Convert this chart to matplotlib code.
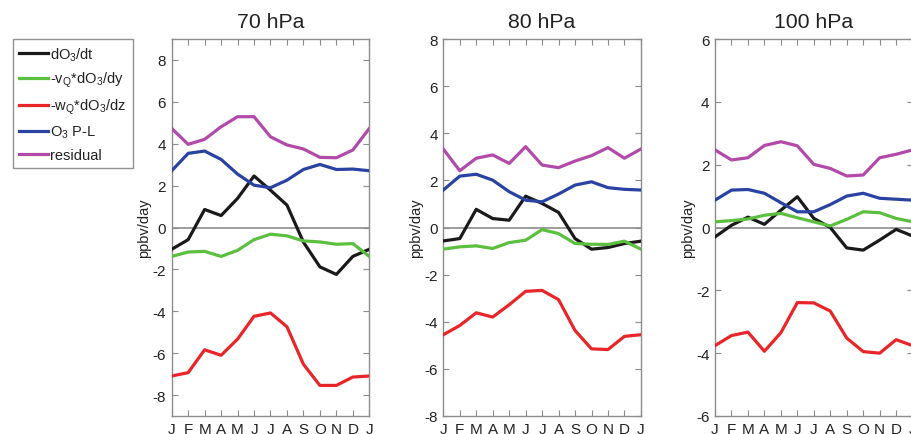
import matplotlib
matplotlib.use("Agg")
import matplotlib.pyplot as plt

plt.rcParams['font.family'] = ['Liberation Sans', 'DejaVu Sans']
plt.rcParams['mathtext.fontset'] = 'custom'
plt.rcParams['mathtext.rm'] = 'Liberation Sans'
plt.rcParams['mathtext.it'] = 'Liberation Sans:italic'
plt.rcParams['mathtext.default'] = 'regular'
plt.rcParams['axes.unicode_minus'] = False

months = ['J', 'F', 'M', 'A', 'M', 'J', 'J', 'A', 'S', 'O', 'N', 'D', 'J']
titles = ['70 hPa', '80 hPa', '100 hPa']
ylims = [9, 8, 6]
series_labels = [r'dO$_3$/dt', r'-v$_Q$*dO$_3$/dy', r'-w$_Q$*dO$_3$/dz',
                 r'O$_3$ P-L', 'residual']
colors = ['#1a1a1a', '#5cbf3f', '#e8262a', '#2a43a3', '#b14aa9']

# 70 hPa
dOdt_70 = [-1.04, -0.58, 0.86, 0.57, 1.39, 2.46, 1.78, 1.07, -0.70, -1.88, -2.24, -1.38, -1.04]
vQ_70 = [-1.38, -1.17, -1.14, -1.38, -1.09, -0.58, -0.32, -0.40, -0.64, -0.69, -0.80, -0.77, -1.38]
wQ_70 = [-7.09, -6.93, -5.84, -6.10, -5.33, -4.24, -4.08, -4.74, -6.53, -7.54, -7.54, -7.14, -7.09]
PL_70 = [2.71, 3.54, 3.65, 3.25, 2.55, 2.02, 1.90, 2.26, 2.77, 3.01, 2.77, 2.79, 2.71]
res_70 = [4.73, 3.97, 4.21, 4.81, 5.29, 5.29, 4.33, 3.94, 3.75, 3.35, 3.33, 3.70, 4.73]

# 80 hPa
dOdt_80 = [-0.57, -0.47, 0.77, 0.38, 0.31, 1.33, 1.02, 0.64, -0.47, -0.92, -0.85, -0.68, -0.58]
vQ_80 = [-0.92, -0.82, -0.78, -0.89, -0.64, -0.54, -0.09, -0.26, -0.68, -0.71, -0.72, -0.58, -0.92]
wQ_80 = [-4.55, -4.16, -3.62, -3.80, -3.28, -2.71, -2.67, -3.06, -4.37, -5.15, -5.18, -4.62, -4.55]
PL_80 = [1.59, 2.18, 2.26, 2.01, 1.52, 1.16, 1.09, 1.42, 1.80, 1.94, 1.69, 1.62, 1.59]
res_80 = [3.33, 2.41, 2.94, 3.08, 2.72, 3.43, 2.65, 2.54, 2.82, 3.05, 3.39, 2.94, 3.33]

# 100 hPa
dOdt_100 = [-0.30, 0.07, 0.33, 0.10, 0.55, 0.98, 0.29, 0.00, -0.65, -0.72, -0.40, -0.06, -0.27]
vQ_100 = [0.18, 0.22, 0.27, 0.39, 0.45, 0.31, 0.18, 0.05, 0.26, 0.50, 0.47, 0.29, 0.18]
wQ_100 = [-3.76, -3.44, -3.33, -3.94, -3.35, -2.39, -2.40, -2.66, -3.52, -3.95, -4.00, -3.57, -3.76]
PL_100 = [0.87, 1.19, 1.21, 1.09, 0.79, 0.50, 0.50, 0.73, 1.00, 1.09, 0.93, 0.90, 0.87]
res_100 = [2.47, 2.15, 2.22, 2.61, 2.73, 2.60, 2.01, 1.88, 1.64, 1.67, 2.22, 2.33, 2.47]

panels = [
    [dOdt_70, vQ_70, wQ_70, PL_70, res_70],
    [dOdt_80, vQ_80, wQ_80, PL_80, res_80],
    [dOdt_100, vQ_100, wQ_100, PL_100, res_100],
]

W, H = 912, 435
fig = plt.figure(figsize=(W / 100, H / 100), dpi=100)

lefts = [171.7, 443.3, 715.0]
width = 197.6
top, bottom = 40, 417
x = list(range(len(months)))
spine_col = '#8c8c8c'
handles = None
for i, (left, data) in enumerate(zip(lefts, panels)):
    ax = fig.add_axes([left / W, 1 - bottom / H, width / W, (bottom - top) / H])
    ax.axhline(0, color='#8c8c8c', lw=1.2, zorder=1)
    hs = []
    for vals, c, lab in zip(data, colors, series_labels):
        h, = ax.plot(x, vals, color=c, lw=2.3, label=lab, zorder=3)
        hs.append(h)
    if handles is None:
        handles = hs
    lim = ylims[i]
    ax.set_ylim(-lim, lim)
    ax.set_xlim(0, 12)
    ax.set_yticks(list(range(-lim + (lim % 2), lim + 1, 2)))
    ax.set_xticks(x)
    ax.set_xticklabels(months)
    ax.tick_params(direction='in', top=True, right=True, length=4, width=0.8,
                   color=spine_col, labelsize=11, labelcolor='#222222', pad=4)
    for s in ax.spines.values():
        s.set_color(spine_col)
        s.set_linewidth(1.0)
    ax.set_ylabel('ppbv/day', fontsize=10.5, color='#222222')
    ax.yaxis.set_label_coords(-0.103, 0.5)
    ax.set_title(titles[i], fontsize=15.3, color='#222222', pad=9)

leg = fig.legend(handles=handles, labels=series_labels, loc='upper left',
                 bbox_to_anchor=(13 / W, 1 - 40 / H), frameon=True, fancybox=False,
                 fontsize=10.5, handlelength=2.0, handletextpad=0.15,
                 labelspacing=0.52, borderpad=0.42, borderaxespad=0)
leg.get_frame().set_edgecolor('#777777')
leg.get_frame().set_linewidth(1.0)
for t in leg.get_texts():
    t.set_color('#222222')

fig.savefig('out.png', dpi=100)
